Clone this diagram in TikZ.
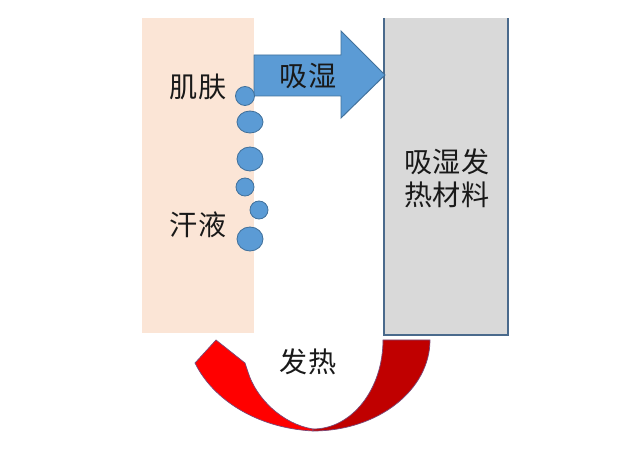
\documentclass[tikz,border=0pt]{standalone}
\usepackage{fontspec}
\newfontfamily\cjk{Noto Sans CJK SC}
\definecolor{skin}{HTML}{FBE5D6}
\definecolor{panel}{HTML}{D9D9D9}
\definecolor{panelline}{HTML}{4A6A8C}
\definecolor{bluefill}{HTML}{5B9BD5}
\definecolor{blueline}{HTML}{41719C}
\definecolor{redleft}{HTML}{FF0000}
\definecolor{redright}{HTML}{C00000}
\definecolor{redline}{HTML}{7A4A78}
\tikzset{lbl/.style={font=\cjk\fontsize{20}{23.5}\selectfont, text=black!90, align=center, inner sep=0pt}}
\newcommand{\drop}[3]{\filldraw[fill=bluefill, draw=blueline, line width=0.6pt] (#1) ellipse ({#2} and {#3})}

\begin{document}
\begin{tikzpicture}[x=0.025cm,y=-0.025cm]
	\useasboundingbox (0,0) rectangle (640,451);
	% skin and material
	\fill[skin] (142,18) rectangle (254,333);
	\fill[panel] (384,18) rectangle (508,335);
	\draw[panelline, line width=0.9pt] (384,18) -- (384,335) -- (508,335) -- (508,18);
	% moisture arrow
	\filldraw[fill=bluefill, draw=blueline, line width=0.7pt]
		(254,55) -- (341,55) -- (341,31) -- (385,75) -- (341,118) -- (341,96) -- (254,96) -- cycle;
		\drop{245,96}{9.5}{9.5};
		\drop{250,122}{13}{11};
		\drop{250,159}{13}{12};
		\drop{245,187}{9}{9};
		\drop{259,210}{9}{9};
		\drop{250,239}{13}{12};
	% heat
	\filldraw[fill=redleft, draw=redline, line width=0.5pt]
		(195,363) -- (216,340) -- (245,363) -- (248,372)
		.. controls (256,398) and (282,424) .. (313,429)
		-- (313,431) .. controls (255,428) and (212,398) .. (195,363) -- cycle;
	\filldraw[fill=redright, draw=redline, line width=0.5pt]
		(383,340) -- (430,340) .. controls (430,390) and (378,431) .. (313,431)
		-- (313,429) .. controls (352,429) and (383,389) .. (383,340) -- cycle;
	% labels
	\node[lbl] (skinlbl) at (198,87) {肌肤};
	\node[lbl] (sweatlbl) at (198,225) {汗液};
	\node[lbl] (absorblbl) at (308,76) {吸湿};
	\node[lbl] (matlbl) at (447,178) {吸湿发\\热材料};
	\node[lbl] (heatlbl) at (308,362) {发热};
\end{tikzpicture}
\end{document}
